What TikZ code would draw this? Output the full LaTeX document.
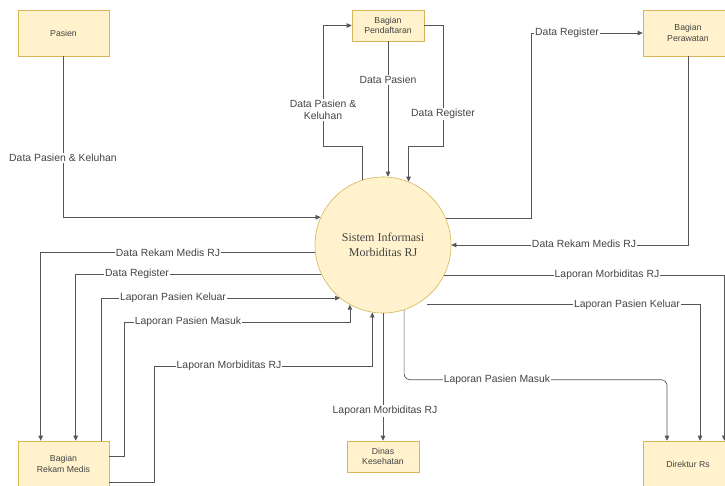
\documentclass[tikz,border=0pt]{standalone}
\usepackage{fontspec}
\setmainfont{Liberation Sans}
\newfontfamily\seriffam{Liberation Serif}
\usetikzlibrary{arrows.meta,calc}
\definecolor{boxfill}{HTML}{FFF2CC}
\definecolor{boxline}{HTML}{D6B656}
\definecolor{flowc}{HTML}{555555}
\definecolor{txtc}{HTML}{444444}
\begin{document}
\begin{tikzpicture}[x=1pt,y=-1pt,
  ent/.style={rectangle, draw=boxline, fill=boxfill, line width=0.6pt, text=txtc,
    font=\fontsize{8.7}{10.5}\selectfont, align=center, inner sep=0pt},
  proc/.style={circle, draw=boxline, fill=boxfill, line width=0.6pt, minimum size=136pt,
    inner sep=0pt, font=\seriffam\fontsize{12}{15}\selectfont, text=txtc, align=center},
  flow/.style={draw=flowc, line width=0.7pt, -{Triangle[length=5pt,width=4.5pt]}},
  lbl/.style={fill=white, text=txtc, font=\fontsize{10.4}{12}\selectfont, inner sep=1pt, align=center}]
\useasboundingbox (0,0) rectangle (725,485);
\fill[white] (0,0) rectangle (725,485);
% entities
\node[ent, minimum width=91pt, minimum height=46pt] (pasien) at (63.5,33) {Pasien};
\node[ent, minimum width=72pt, minimum height=31pt] (daftar) at (388,25.5) {Bagian\\Pendaftaran};
\node[ent, minimum width=90pt, minimum height=46pt] (rawat) at (688,33) {Bagian\\Perawatan};
\node[ent, minimum width=91pt, minimum height=46pt] (rm) at (63.5,464) {Bagian\\Rekam Medis};
\node[ent, minimum width=72pt, minimum height=31pt] (dinas) at (383,456.5) {Dinas\\Kesehatan};
\node[ent, minimum width=90pt, minimum height=46pt] (dir) at (688,464) {Direktur Rs};
\node[proc] (sys) at (383,245) {Sistem Informasi\\Morbiditas RJ};
% flows
\draw[flow] (pasien.south) |- (sys.156.6);
\draw[flow] (sys.108.9) |- (323,146) |- (daftar.west);
\draw[flow] (daftar.south) -- (daftar.south |- sys.north);
\draw[flow] (daftar.east) -| (443,146) -| (sys.68.4);
\draw[flow] (sys.23.4) -| (531,33) -- (rawat.west);
\draw[flow] (rawat.south) |- (sys.0.8);
\draw[flow] (sys.-26.2) -| ($(dir.north east)+(-9,0)$);
\draw[flow] ($(sys.-61.9)+(11,0)$) -| ($(dir.north)+(12,0)$);
\draw[flow, rounded corners=6pt] (sys.-72.9) |- ($(dir.north)+(-21,-61)$) -- ($(dir.north)+(-21,0)$);
\draw[flow] (sys.south) -- (dinas.north);
\draw[flow] (sys.186.75) -| ($(rm.north west)+(23,0)$);
\draw[flow] (sys.205.2) -| ($(rm.north west)+(58,0)$);
\draw[flow] ($(rm.north west)+(84,0)$) |- (sys.231.2);
\draw[flow] ($(rm.east)+(0,-8)$) -| (124,322) -| (sys.241);
\draw[flow] ($(rm.east)+(0,18)$) -| (154,366) -| (sys.261.5);
% labels
\node[lbl] (l1) at (63,158) {Data Pasien \& Keluhan};
\node[lbl] (l2) at (323,110) {Data Pasien \&\\Keluhan};
\node[lbl] (l3) at (388,80) {Data Pasien};
\node[lbl] (l4) at (443,114) {Data Register};
\node[lbl] (l5) at (567,33) {Data Register};
\node[lbl] (l6) at (584,244) {Data Rekam Medis RJ};
\node[lbl] (l7) at (607,275) {Laporan Morbiditas RJ};
\node[lbl] (l8) at (627,305) {Laporan Pasien Keluar};
\node[lbl] (l9) at (497,380) {Laporan Pasien Masuk};
\node[lbl] (l10) at (385,411) {Laporan Morbiditas RJ};
\node[lbl] (l11) at (168,253) {Data Rekam Medis RJ};
\node[lbl] (l12) at (137,274) {Data Register};
\node[lbl] (l13) at (173,298) {Laporan Pasien Keluar};
\node[lbl] (l14) at (188,322) {Laporan Pasien Masuk};
\node[lbl] (l15) at (229,366) {Laporan Morbiditas RJ};
\end{tikzpicture}
\end{document}
